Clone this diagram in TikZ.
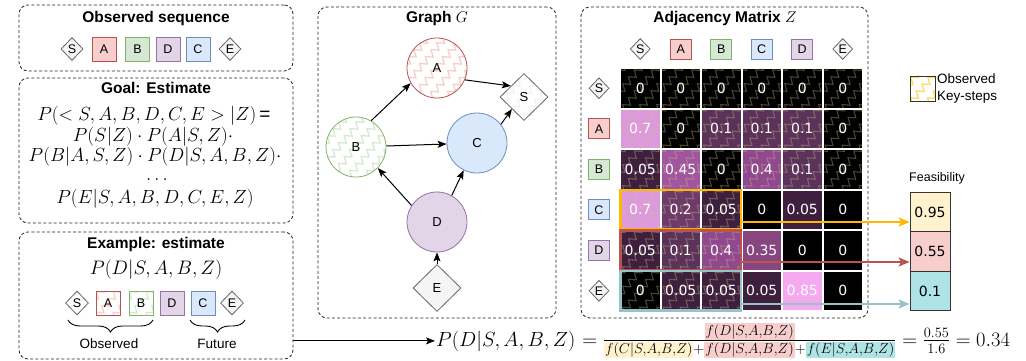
\RequirePackage{fix-cm}
\documentclass[tikz,border=0pt]{standalone}
\usepackage{fontspec}
\usepackage{amsmath}
\usetikzlibrary{shapes.geometric,arrows.meta,decorations.pathmorphing,decorations.pathreplacing,calc,fit}
\newfontfamily\lab{Liberation Sans}
\newfontfamily\dvs{DejaVu Sans}
\definecolor{redF}{HTML}{F8CECC}\definecolor{redS}{HTML}{B85450}
\definecolor{greenF}{HTML}{D5E8D4}\definecolor{greenS}{HTML}{82B366}
\definecolor{purpF}{HTML}{E1D5E7}\definecolor{purpS}{HTML}{9673A6}
\definecolor{blueF}{HTML}{DAE8FC}\definecolor{blueS}{HTML}{6C8EBF}
\definecolor{grayF}{HTML}{F5F5F5}\definecolor{grayS}{HTML}{666666}
\definecolor{yellowF}{HTML}{FFF2CC}\definecolor{cyanF}{HTML}{B0E3E6}
\definecolor{orangeL}{RGB}{255,184,0}\definecolor{cyanL}{RGB}{150,195,200}
\definecolor{yellowP}{HTML}{FFD966}
\definecolor{patC}{RGB}{205,192,140}
\definecolor{v85}{RGB}{245,170,240}\definecolor{v70}{RGB}{220,154,220}
\definecolor{v45}{RGB}{160,85,158}\definecolor{v40}{RGB}{144,72,142}
\definecolor{v35}{RGB}{135,70,128}\definecolor{v20}{RGB}{110,58,106}
\definecolor{v10}{RGB}{91,50,89}\definecolor{v05}{RGB}{62,32,62}
\definecolor{v00}{RGB}{0,0,0}
\newcommand\hlbox[2]{{\setlength{\fboxsep}{1pt}\colorbox{#1}{$\scriptstyle #2$}}}
\newcommand\mrow[2]{%
  \foreach \v/\c [count=\j from 0] in {#2}{%
    \pgfmathtruncatemacro\pp{or(#1<3,\j<3)}%
    \ifnum\pp=1
      \node[cell, fill=\c, zzpat={draw=patC, draw opacity=0.36, line width=1.1pt}] (m-#1-\j) at (640.25+40.5*\j, 88.25+40.5*#1) {\v};
    \else
      \node[cell, fill=\c] (m-#1-\j) at (640.25+40.5*\j, 88.25+40.5*#1) {\v};
    \fi
  }%
}
\begin{document}
\begin{tikzpicture}[x=1pt,y=-1pt,
  panel/.style={draw=black!85, dash pattern=on 3pt off 2.2pt, rounded corners=9pt, line width=0.8pt, inner sep=0},
  ttl/.style={font=\lab\bfseries\fontsize{15.5}{18}\selectfont, inner sep=0},
  mth/.style={font=\fontsize{19}{22}\selectfont, inner sep=0},
  lbox/.style={rectangle, draw, line width=0.8pt, inner sep=0, font=\lab\fontsize{12.5}{14}\selectfont},
  sq/.style={lbox, minimum width=24pt, minimum height=24pt},
  hsq/.style={lbox, minimum width=21pt, minimum height=20pt},
  dia/.style={diamond, aspect=1, draw=grayS, fill=grayF, line width=0.8pt, inner sep=0, font=\lab\fontsize{12.5}{14}\selectfont},
  circ/.style={circle, minimum size=60pt, inner sep=0, line width=0.8pt, font=\lab\fontsize{13}{15}\selectfont},
  zzl/.style={decorate, decoration={zigzag, segment length=9pt, amplitude=3.2pt}, line width=1pt},
  zzpat/.style={path picture={
    \foreach \k in {-4,...,4}{
      \draw[zzl,#1] ($(path picture bounding box.center)+(\k*17pt-28pt,-34pt)$) -- ++(56pt,68pt);
    }}},
  cell/.style={rectangle, minimum width=38.5pt, minimum height=38.5pt, inner sep=0, text=white, font=\dvs\fontsize{14}{16}\selectfont},
  edge/.style={-{Stealth[length=9pt,width=7pt,inset=2pt]}, line width=1pt},
  farrow/.style={-{Stealth[length=11pt,width=9pt,inset=2.5pt]}, line width=2pt},
  fbox/.style={rectangle, draw=black!80, line width=0.8pt, minimum width=40pt, minimum height=39.5pt, inner sep=0, font=\dvs\fontsize{14}{16}\selectfont},
  bracedn/.style={decorate, decoration={brace, mirror, amplitude=12pt}, line width=0.9pt},
  lbl/.style={font=\lab\fontsize{13.5}{16}\selectfont, inner sep=0}
]
\fill[white] (0,0) rectangle (1026,361);
\useasboundingbox (0,0) rectangle (1026,361);

% ---------- panels ----------
\node[panel, minimum width=274pt, minimum height=66pt] (p1) at (156,38) {};
\node[panel, minimum width=274pt, minimum height=145pt] (p2) at (156,150.5) {};
\node[panel, minimum width=274pt, minimum height=127pt] (p3) at (156,295.5) {};
\node[panel, minimum width=238pt, minimum height=311pt] (pg) at (437,162.5) {};
\node[panel, minimum width=287pt, minimum height=311pt] (pm) at (724.5,162.5) {};

% ---------- observed sequence ----------
\node[ttl] (t1) at (156,18) {Observed sequence};
\node[dia, minimum width=22pt, minimum height=23pt] (os) at (72,49) {S};
\node[sq, draw=redS, fill=redF] (oa) at (104,49) {A};
\node[sq, draw=greenS, fill=greenF] (ob) at (137.5,49) {B};
\node[sq, draw=purpS, fill=purpF] (od) at (168,49) {D};
\node[sq, draw=blueS, fill=blueF] (oc) at (198,49) {C};
\node[dia, minimum width=22pt, minimum height=23pt] (oe) at (230,49) {E};

% ---------- goal ----------
\node[ttl] (t2) at (156,88) {Goal: Estimate};
\node[mth] (g1) at (154,115.5) {$P(<S,A,B,D,C,E>|Z)$\,{\lab =}};
\node[mth] (g2) at (153,136.5) {$P(S|Z)\cdot P(A|S,Z)\cdot$};
\node[mth] (g3) at (155,157) {$P(B|A,S,Z)\cdot P(D|S,A,B,Z)\cdot$};
\node[mth] (g4) at (157,180) {$\ldots$};
\node[mth] (g5) at (155,199) {$P(E|S,A,B,D,C,E,Z)$};

% ---------- example ----------
\node[ttl] (t3) at (156,244) {Example: estimate};
\node[mth, font=\fontsize{19.5}{22}\selectfont] (ex) at (156,270) {$P(D|S,A,B,Z)$};
\node[dia, fill=white, minimum width=23pt, minimum height=24pt, zzpat={draw=gray!12}] (es) at (77,303) {S};
\node[sq, draw=redS, fill=white, zzpat={draw=redF, line width=1.2pt}] (ea) at (108,303) {A};
\node[sq, draw=greenS, fill=white, zzpat={draw=greenF, line width=1.2pt}] (eb) at (141,303) {B};
\node[sq, draw=purpS, fill=purpF] (ed) at (172,303) {D};
\node[sq, draw=blueS, fill=blueF] (ec) at (203,303) {C};
\node[dia, minimum width=23pt, minimum height=24pt] (ee) at (232,303) {E};
\draw[bracedn] (68,320) -- (153,320);
\draw[bracedn] (190,320) -- (245,320);
\node[lbl] (lo) at (109,344) {Observed};
\node[lbl] (lf) at (217,344) {Future};

% ---------- graph ----------
\node[ttl] (tg) at (437,18) {Graph $G$};
\node[circ, draw=redS, fill=white, zzpat={draw=redF, line width=1.3pt}] (A) at (437,68) {A};
\node[circ, draw=greenS, fill=white, zzpat={draw=greenF, line width=1.3pt}] (B) at (356,147) {B};
\node[circ, draw=blueS, fill=blueF] (C) at (477,143) {C};
\node[circ, draw=purpS, fill=purpF] (D) at (437,222) {D};
\node[dia, font=\lab\fontsize{13}{15}\selectfont, fill=white, zzpat={draw=gray!10, line width=1.2pt}, minimum width=48pt, minimum height=47pt] (S) at (524,97) {S};
\node[dia, font=\lab\fontsize{13}{15}\selectfont, minimum width=48pt, minimum height=47pt] (E) at (437,288) {E};
\draw[edge] (B.60) -- (A.210);
\draw[edge] (A.-23) -- (S.140);
\draw[edge] (B) -- (C);
\draw[edge] (C.38) -- (S.225);
\draw[edge] (D.147) -- (B.-44);
\draw[edge] (D.61) -- (C.-116);
\draw[edge] (E) -- (D);

% ---------- adjacency matrix ----------
\node[ttl] (tm) at (725,18) {Adjacency Matrix $Z$};
\node[dia, minimum width=20pt, minimum height=21pt] (cs) at (640.25,49) {S};
\node[hsq, draw=redS, fill=redF] (ca) at (680.75,49) {A};
\node[hsq, draw=greenS, fill=greenF] (cb) at (721.25,49) {B};
\node[hsq, draw=blueS, fill=blueF] (cc) at (761.75,49) {C};
\node[hsq, draw=purpS, fill=purpF] (cd) at (802.25,49) {D};
\node[dia, minimum width=20pt, minimum height=21pt] (ce) at (842.75,49) {E};
\node[dia, minimum width=20pt, minimum height=21pt] (rs) at (599,88.25) {S};
\node[hsq, draw=redS, fill=redF] (ra) at (599,128.75) {A};
\node[hsq, draw=greenS, fill=greenF] (rb) at (599,169.25) {B};
\node[hsq, draw=blueS, fill=blueF] (rc) at (599,209.75) {C};
\node[hsq, draw=purpS, fill=purpF] (rd) at (599,250.25) {D};
\node[dia, minimum width=20pt, minimum height=21pt] (re) at (599,290.75) {E};

\mrow{0}{0/v00,0/v00,0/v00,0/v00,0/v00,0/v00}
\mrow{1}{0.7/v70,0/v00,0.1/v10,0.1/v10,0.1/v10,0/v00}
\mrow{2}{0.05/v05,0.45/v45,0/v00,0.4/v40,0.1/v10,0/v00}
\mrow{3}{0.7/v70,0.2/v20,0.05/v05,0/v00,0.05/v05,0/v00}
\mrow{4}{0.05/v05,0.1/v10,0.4/v40,0.35/v35,0/v00,0/v00}
\mrow{5}{0/v00,0.05/v05,0.05/v05,0.05/v05,0.85/v85,0/v00}

\node[fit=(m-3-0)(m-3-2), draw=orangeL, line width=2.2pt, inner sep=0.3pt] (hc) {};
\node[fit=(m-4-0)(m-4-2), draw=redS, line width=2.2pt, inner sep=0.3pt] (hd) {};
\node[fit=(m-5-0)(m-5-2), draw=cyanL, line width=2.2pt, inner sep=0.3pt] (he) {};

% ---------- legend & feasibility ----------
\node[rectangle, draw=black!80, line width=0.8pt, fill=white, zzpat={draw=yellowP, line width=1.3pt}, minimum width=25pt, minimum height=25pt, inner sep=0] (lg) at (922.5,88.5) {};
\node[anchor=west, align=left, inner sep=0, font=\lab\fontsize{13.5}{17.5}\selectfont] (lgt) at (937,88.5) {Observed\\Key-steps};
\node[font=\lab\fontsize{12.5}{14}\selectfont, inner sep=0] (ft) at (937,178) {Feasibility};
\node[fbox, fill=yellowF] (f1) at (930,212) {0.95};
\node[fbox, fill=redF] (f2) at (930,251.5) {0.55};
\node[fbox, fill=cyanF] (f3) at (930,291) {0.1};
\coordinate (oC) at (742,222);
\coordinate (oD) at (742,262);
\coordinate (oE) at (742,304);
\draw[farrow, orangeL] (oC) -- (oC -| f1.west);
\draw[farrow, redS] (oD) -- (oD -| f2.west);
\draw[farrow, cyanL] (oE) -- (oE -| f3.west);

% ---------- bottom formula ----------
\node[font=\fontsize{20.5}{24}\selectfont, inner sep=1pt, anchor=base west] (fm) at (435,346) {$P(D|S,A,B,Z)$};
\node[font=\fontsize{20.5}{24}\selectfont, inner sep=0, anchor=base west] (fr) at (fm.base east) {${}=\frac{\hlbox{redF}{f(D|S,A,B,Z)}}{\hlbox{yellowF}{f(C|S,A,B,Z)}+\hlbox{redF}{f(D|S,A,B,Z)}+\hlbox{cyanF}{f(E|S,A,B,Z)}}=\frac{0.55}{1.6}=0.34$};
\draw[edge] (p3.east |- fm.west) -- (fm.west);
\end{tikzpicture}
\end{document}
